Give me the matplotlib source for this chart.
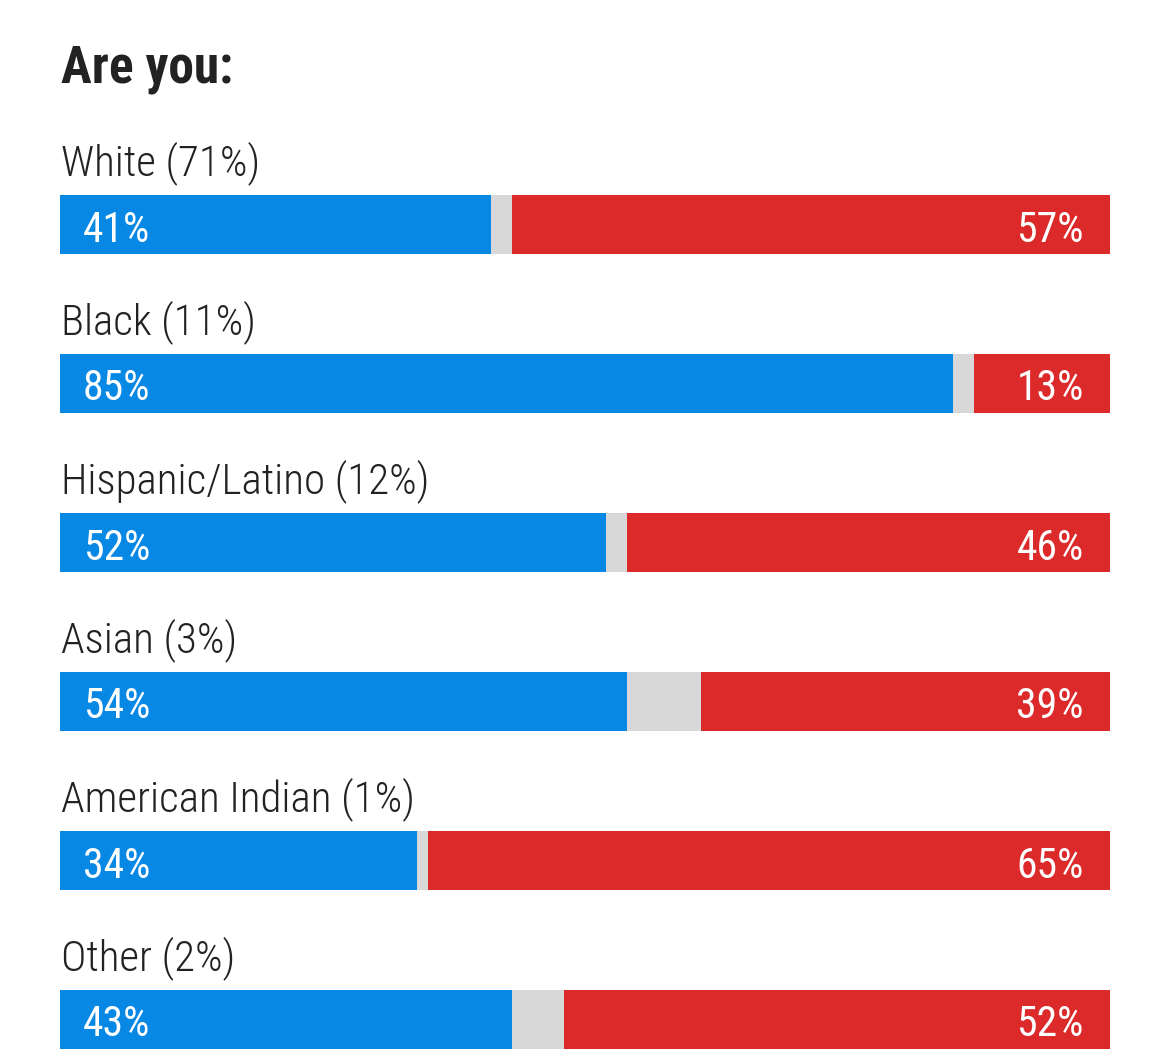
import matplotlib
matplotlib.use("Agg")
import matplotlib.pyplot as plt

categories = ["White (71%)", "Black (11%)", "Hispanic/Latino (12%)", "Asian (3%)",
              "American Indian (1%)", "Other (2%)"]
dem = [41, 85, 52, 54, 34, 43]
rep = [57, 13, 46, 39, 65, 52]
title = "Are you:"

BLUE = "#0788E5"
GRAY = "#D8D8D8"
RED = "#DC2A2A"
FAM = ["Roboto Condensed", "Oswald", "Roboto", "DejaVu Sans"]

W, H = 1170, 1062
fig = plt.figure(figsize=(W / 100, H / 100), dpi=100)
ax = fig.add_axes([60 / W, 0, 1050 / W, 1])
ax.set_xlim(0, 100)
ax.set_ylim(H, 0)
ax.axis("off")

top0, step, bh = 195, 159, 59
for i, (c, d, r) in enumerate(zip(categories, dem, rep)):
    y = top0 + step * i + bh / 2
    other = 100 - d - r
    ax.barh(y, d, left=0, height=bh, color=BLUE, linewidth=0)
    ax.barh(y, other, left=d, height=bh, color=GRAY, linewidth=0)
    ax.barh(y, r, left=d + other, height=bh, color=RED, linewidth=0)
    ax.text(0.1, y - bh / 2 - 20, c, fontsize=31, family=FAM, fontweight="light",
            color="#222222", va="baseline", ha="left")
    ax.text(2.2, y + 17, f"{d}%", fontsize=30, family=FAM, color="white",
            va="baseline", ha="left")
    ax.text(97.5, y + 17, f"{r}%", fontsize=30, family=FAM, color="white",
            va="baseline", ha="right")

ax.text(0.1, 82, title, fontsize=37, family=FAM, fontweight="bold",
        color="#222222", va="baseline", ha="left")

fig.savefig("out.png", dpi=100)
